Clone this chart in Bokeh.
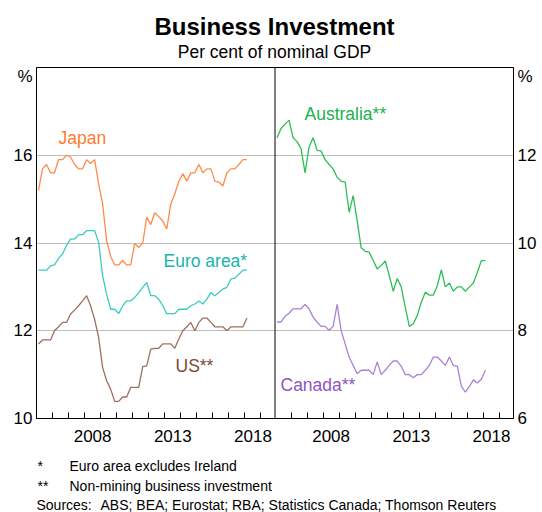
import pandas as pd
from bokeh.plotting import figure
from bokeh.layouts import column
from bokeh.models import Range1d, LinearAxis, FixedTicker, Span, Label, ColumnDataSource
from bokeh.embed import file_html
from bokeh.resources import INLINE

# ---------------- data ----------------
QUARTERS = pd.period_range("2005Q1", "2018Q1", freq="Q")

japan = [15.20, 15.69, 15.79, 15.60, 15.60, 15.90, 15.90, 16.00, 15.96, 15.79,
         15.69, 15.69, 15.90, 15.81, 15.90, 15.35, 14.89, 14.05, 13.70, 13.50,
         13.50, 13.60, 13.50, 13.50, 13.99, 13.90, 14.00, 14.59, 14.42, 14.69,
         14.60, 14.50, 14.32, 14.89, 15.12, 15.40, 15.58, 15.41, 15.60, 15.60,
         15.79, 15.60, 15.69, 15.69, 15.41, 15.39, 15.30, 15.60, 15.69, 15.69,
         15.79, 15.90, 15.90]
euro_area = [13.38, 13.38, 13.38, 13.48, 13.50, 13.65, 13.75, 13.95, 14.09, 14.09,
             14.19, 14.19, 14.28, 14.28, 14.28, 14.02, 13.25, 12.83, 12.49, 12.49,
             12.39, 12.57, 12.68, 12.68, 12.76, 12.87, 12.99, 13.10, 12.80, 12.80,
             12.72, 12.57, 12.39, 12.39, 12.39, 12.49, 12.49, 12.49, 12.57, 12.61,
             12.68, 12.61, 12.72, 12.87, 12.80, 12.87, 12.95, 12.99, 13.18, 13.20,
             13.29, 13.38, 13.38]
us = [11.70, 11.79, 11.79, 11.79, 12.00, 12.09, 12.19, 12.19, 12.38, 12.47,
      12.57, 12.68, 12.80, 12.57, 12.26, 11.85, 11.16, 10.86, 10.67, 10.39,
      10.39, 10.49, 10.49, 10.71, 10.71, 10.71, 11.18, 11.20, 11.58, 11.60,
      11.60, 11.70, 11.70, 11.70, 11.60, 11.81, 12.00, 12.09, 12.19, 12.00,
      12.19, 12.29, 12.29, 12.19, 12.09, 12.09, 12.09, 12.00, 12.09, 12.09,
      12.09, 12.09, 12.29]
australia = [12.40, 12.61, 12.71, 12.80, 12.40, 12.31, 12.15, 11.60, 12.19, 12.40,
             12.11, 12.10, 11.90, 11.79, 11.69, 11.50, 11.41, 11.39, 10.70, 11.08,
             10.51, 9.89, 9.81, 9.79, 9.60, 9.41, 9.49, 9.59, 9.26, 8.90,
             9.19, 9.00, 8.54, 8.10, 8.16, 8.35, 8.65, 8.88, 8.81, 8.81,
             9.03, 9.39, 9.00, 9.09, 8.90, 9.00, 9.00, 8.90, 9.00, 9.09,
             9.34, 9.60, 9.60]
canada = [8.20, 8.20, 8.33, 8.40, 8.50, 8.50, 8.50, 8.60, 8.50, 8.31,
          8.20, 8.10, 8.10, 8.01, 8.10, 8.60, 8.01, 7.70, 7.40, 7.21,
          7.02, 7.10, 7.10, 7.10, 7.00, 7.29, 7.00, 7.10, 7.21, 7.31,
          7.31, 7.19, 7.00, 7.00, 6.93, 7.00, 7.00, 7.10, 7.21, 7.40,
          7.40, 7.31, 7.21, 7.40, 7.21, 7.19, 6.73, 6.60, 6.73, 6.88,
          6.81, 6.90, 7.10]

TICK_YEARS = [2008, 2013, 2018]
MINOR_YEARS = list(range(2006, 2020))
LEFT_TICKS = [10, 12, 14, 16]
RIGHT_TICKS = [6, 8, 10, 12]
GRID_TICKS = [12, 14, 16]
LEFT_RANGE = (10, 18)
RIGHT_RANGE = (6, 14)
UNIT = "%"

# ---------------- layout constants ----------------
FONT = "Liberation Sans"
W = 542
HEADER_H = 61
X_START = 2005.0
PANEL = 14.875           # years shown per panel
FRAME_W, FRAME_H = 477, 351
B_LEFT, B_RIGHT, B_TOP, B_BOTTOM = 36, 29, 6, 34
FOOT_TOP = HEADER_H + B_TOP + FRAME_H + B_BOTTOM
FOOTER_H = 512 - FOOT_TOP
FRAME_LEFT_PAGE = B_LEFT
FRAME_BOTTOM_PAGE = HEADER_H + B_TOP + FRAME_H
PX_YEAR = FRAME_W / (2 * PANEL)
PX_UNIT = FRAME_H / (LEFT_RANGE[1] - LEFT_RANGE[0])
UNIT_OFFSET = 9 / PX_UNIT   # unit label sits 9px below the top


def dx(px):
    return X_START + (px - FRAME_LEFT_PAGE) / PX_YEAR


def dy(py):
    return LEFT_RANGE[0] + (FRAME_BOTTOM_PAGE - py) / PX_UNIT


def blank(height, y0):
    # strip whose data coordinates equal page pixels (frame aligned with main chart)
    f = figure(width=W, height=height,
               x_range=Range1d(B_LEFT, B_LEFT + FRAME_W),
               y_range=Range1d(y0 + height, y0), output_backend="svg",
               toolbar_location=None, min_border_left=B_LEFT,
               min_border_right=B_RIGHT, min_border_top=0, min_border_bottom=0,
               x_axis_location=None, y_axis_location=None)
    f.outline_line_color = None
    f.grid.visible = False
    f.background_fill_color = "white"
    f.border_fill_color = "white"
    return f


# ---------------- header ----------------
head = blank(HEADER_H, 0)
head.add_layout(Label(x=274, y=26, text="Business Investment",
                      text_font=FONT, text_font_size="24px", text_font_style="bold",
                      text_color="black", text_align="center", text_baseline="middle"))
head.add_layout(Label(x=274, y=51, text="Per cent of nominal GDP",
                      text_font=FONT, text_font_size="17.5px",
                      text_color="black", text_align="center", text_baseline="middle"))

# ---------------- main chart ----------------
xq = [q.year + (q.quarter - 1) / 4 + 0.125 for q in QUARTERS]
src = ColumnDataSource(dict(x=xq, japan=japan, euro=euro_area, us=us,
                            aus=australia, can=canada))

p = figure(frame_width=FRAME_W, frame_height=FRAME_H,
           x_range=Range1d(X_START, X_START + 2 * PANEL),
           y_range=Range1d(*LEFT_RANGE),
           output_backend="svg", toolbar_location=None,
           min_border_left=B_LEFT, min_border_right=B_RIGHT,
           min_border_top=B_TOP, min_border_bottom=B_BOTTOM,
           x_axis_location=None, y_axis_location=None)
p.extra_x_ranges = {"right": Range1d(X_START - PANEL, X_START + PANEL)}
p.extra_y_ranges = {"right": Range1d(*RIGHT_RANGE)}
p.outline_line_color = "black"
p.outline_line_width = 1
p.background_fill_color = "white"
p.border_fill_color = "white"

p.xgrid.visible = False
p.ygrid.ticker = FixedTicker(ticks=GRID_TICKS)
p.ygrid.grid_line_color = "#BDBDBD"
p.ygrid.grid_line_width = 1

# x axis (both panels on one axis)
majors = [y + 0.5 for y in TICK_YEARS] + [y + 0.5 + PANEL for y in TICK_YEARS]
minors = [float(y) for y in MINOR_YEARS] + [y + PANEL for y in MINOR_YEARS]
xaxis = LinearAxis(ticker=FixedTicker(ticks=majors, minor_ticks=minors))
xaxis.major_label_overrides = {m: str(y) for m, y in zip(majors, TICK_YEARS * 2)}
xaxis.major_tick_in = 0
xaxis.major_tick_out = 0
xaxis.minor_tick_in = 6
xaxis.minor_tick_out = 0
xaxis.minor_tick_line_color = "black"
xaxis.axis_line_color = "black"
xaxis.major_label_standoff = 11
xaxis.major_label_text_font = FONT
xaxis.major_label_text_font_size = "17px"
xaxis.major_label_text_color = "black"
p.add_layout(xaxis, "below")

for side, ticks, rng in (("left", LEFT_TICKS, LEFT_RANGE), ("right", RIGHT_TICKS, RIGHT_RANGE)):
    unit_pos = rng[1] - UNIT_OFFSET
    ax = LinearAxis(ticker=FixedTicker(ticks=ticks + [unit_pos]),
                    y_range_name="default" if side == "left" else "right")
    ax.major_label_overrides = {unit_pos: UNIT}
    ax.major_tick_in = 0
    ax.major_tick_out = 0
    ax.minor_tick_in = 0
    ax.minor_tick_out = 0
    ax.axis_line_color = "black"
    ax.major_label_standoff = 4
    ax.major_label_text_font = FONT
    ax.major_label_text_font_size = "17px"
    ax.major_label_text_color = "black"
    p.add_layout(ax, side)

p.add_layout(Span(location=X_START + PANEL, dimension="height",
                  line_color="black", line_width=1))

series = [
    ("japan", "default", "#FF8A4A"),
    ("euro", "default", "#3CCBC2"),
    ("us", "default", "#9C705C"),
    ("aus", "right", "#2EBE58"),
    ("can", "right", "#A982D4"),
]
for col, rng, color in series:
    kw = {} if rng == "default" else dict(x_range_name="right", y_range_name="right")
    p.line("x", col, source=src, line_color=color, line_width=1.3, **kw)

labels = [
    ("Japan", 58, 137, "#FF7A2F"),
    ("Euro area*", 163, 260, "#19B3AA"),
    ("US**", 175, 365, "#7B4B36"),
    ("Australia**", 304, 113, "#20B14C"),
    ("Canada**", 280, 384, "#9055C0"),
]
for txt, px, py, color in labels:
    p.add_layout(Label(x=dx(px), y=dy(py), text=txt, text_color=color,
                       text_font=FONT, text_font_size="17.5px",
                       text_align="left", text_baseline="middle"))

# ---------------- footer ----------------
foot = blank(FOOTER_H, FOOT_TOP)
notes = [
    ("*", 37, 465), ("Euro area excludes Ireland", 69, 465),
    ("**", 37, 485), ("Non-mining business investment", 69, 485),
    ("Sources:", 36, 504),
    ("ABS; BEA; Eurostat; RBA; Statistics Canada; Thomson Reuters", 100, 504),
]
for txt, px, py in notes:
    foot.add_layout(Label(x=px, y=py, text=txt, text_font=FONT,
                          text_font_size="14px", text_color="black",
                          text_align="left", text_baseline="middle"))

layout = column(head, p, foot, spacing=0)
open("out.html", "w").write(file_html(layout, INLINE))
